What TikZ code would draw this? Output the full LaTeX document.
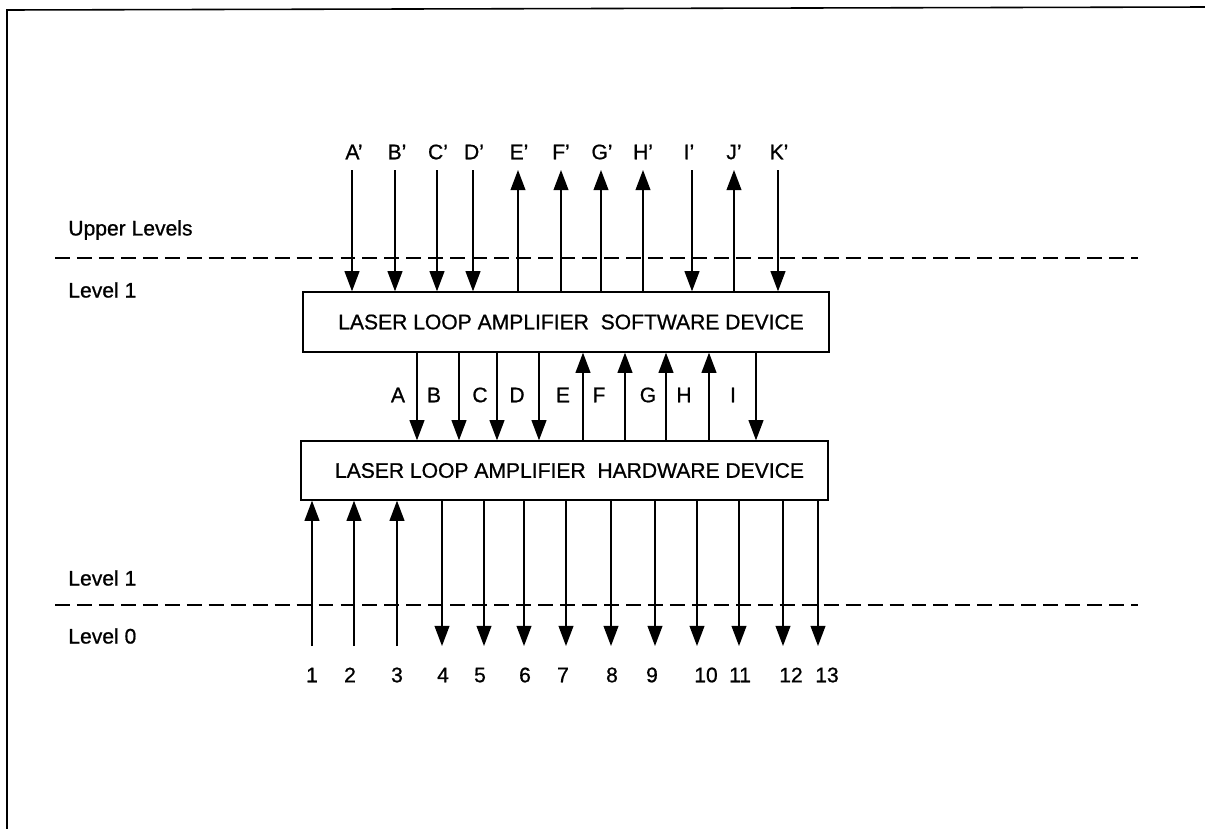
\documentclass[tikz,border=0pt]{standalone}
\usepackage{fontspec}
\setmainfont{Liberation Sans}[UprightFeatures={FakeBold=0.8}]
\usepackage{tikz}
\usetikzlibrary{positioning, arrows.meta, calc}

\begin{document}
\begin{tikzpicture}[
    x=0.02cm, y=-0.02cm,
    every node/.style={font=\fontsize{12}{14}\selectfont},
    devbox/.style={draw, line width=0.8pt, inner sep=0pt},
    wire/.style={-{Triangle[length=11.5pt, width=8.5pt]}, line width=0.75pt},
    levelline/.style={line width=0.8pt, dash pattern=on 8.5pt off 4pt},
    leveltext/.style={anchor=west, inner sep=0pt},
    sigtext/.style={inner sep=1pt}
]
\useasboundingbox (0,0) rectangle (1205,829);

% === FRAME ===
\draw[line width=0.9pt] (7,829) -- (7,10) -- (1205,7);

% === LEVELS ===
\node[leveltext] (upper) at (68,230) {Upper Levels};
\node[leveltext] (lvlA) at (68,290) {Level 1};
\node[leveltext] (lvlB) at (68,578) {Level 1};
\node[leveltext] (lvlC) at (68,636) {Level 0};
\coordinate (dashA) at (55,258);
\coordinate (dashAend) at (1138,258);
\coordinate (dashB) at (55,605);
\coordinate (dashBend) at (1138,605);
\draw[levelline] (dashA) -- (dashAend);
\draw[levelline] (dashB) -- (dashBend);

% === DEVICES ===
\node[devbox, minimum width=10.52cm, minimum height=1.2cm] (sw) at (566,322)
    {\hspace{0.2cm}LASER LOOP AMPLIFIER\ \ SOFTWARE DEVICE};
\node[devbox, minimum width=10.54cm, minimum height=1.18cm] (hw) at (564.5,470.5)
    {\hspace{0.2cm}LASER LOOP AMPLIFIER\ \ HARDWARE DEVICE};

% === UPPER LEVEL SIGNALS ===
\coordinate (tA) at (352,170);
\coordinate (tB) at (395,170);
\coordinate (tC) at (437,170);
\coordinate (tD) at (473,170);
\coordinate (tE) at (518,170);
\coordinate (tF) at (561,170);
\coordinate (tG) at (601,170);
\coordinate (tH) at (643,170);
\coordinate (tI) at (692,170);
\coordinate (tJ) at (734,170);
\coordinate (tK) at (778,170);
\node[sigtext] (ltA) at (354,152) {A'};
\node[sigtext] (ltB) at (397,152) {B'};
\node[sigtext] (ltC) at (438,152) {C'};
\node[sigtext] (ltD) at (474,152) {D'};
\node[sigtext] (ltE) at (519,152) {E'};
\node[sigtext] (ltF) at (561,152) {F'};
\node[sigtext] (ltG) at (602,152) {G'};
\node[sigtext] (ltH) at (643,152) {H'};
\node[sigtext] (ltI) at (689,152) {I'};
\node[sigtext] (ltJ) at (734,152) {J'};
\node[sigtext] (ltK) at (779,152) {K'};
\draw[wire] (tA) -- (tA |- sw.north);
\draw[wire] (tB) -- (tB |- sw.north);
\draw[wire] (tC) -- (tC |- sw.north);
\draw[wire] (tD) -- (tD |- sw.north);
\draw[wire] (tE |- sw.north) -- (tE);
\draw[wire] (tF |- sw.north) -- (tF);
\draw[wire] (tG |- sw.north) -- (tG);
\draw[wire] (tH |- sw.north) -- (tH);
\draw[wire] (tI) -- (tI |- sw.north);
\draw[wire] (tJ |- sw.north) -- (tJ);
\draw[wire] (tK) -- (tK |- sw.north);

% === SOFTWARE <-> HARDWARE ===
\coordinate (mA) at (417,395);
\coordinate (mB) at (459,395);
\coordinate (mC) at (497,395);
\coordinate (mD) at (539,395);
\coordinate (mE) at (583,395);
\coordinate (mF) at (625,395);
\coordinate (mG) at (666,395);
\coordinate (mH) at (709,395);
\coordinate (mI) at (756,395);
\node[sigtext] (lmA) at (398,395) {A};
\node[sigtext] (lmB) at (434,395) {B};
\node[sigtext] (lmC) at (480,395) {C};
\node[sigtext] (lmD) at (517,395) {D};
\node[sigtext] (lmE) at (563,395) {E};
\node[sigtext] (lmF) at (599,395) {F};
\node[sigtext] (lmG) at (648,395) {G};
\node[sigtext] (lmH) at (684,395) {H};
\node[sigtext] (lmI) at (733,395) {I};
\draw[wire] (mA |- sw.south) -- (mA |- hw.north);
\draw[wire] (mB |- sw.south) -- (mB |- hw.north);
\draw[wire] (mC |- sw.south) -- (mC |- hw.north);
\draw[wire] (mD |- sw.south) -- (mD |- hw.north);
\draw[wire] (mE |- hw.north) -- (mE |- sw.south);
\draw[wire] (mF |- hw.north) -- (mF |- sw.south);
\draw[wire] (mG |- hw.north) -- (mG |- sw.south);
\draw[wire] (mH |- hw.north) -- (mH |- sw.south);
\draw[wire] (mI |- sw.south) -- (mI |- hw.north);

% === LEVEL 0 SIGNALS ===
\coordinate (b1) at (312,646);
\coordinate (b2) at (354,646);
\coordinate (b3) at (397,646);
\coordinate (b4) at (442,646);
\coordinate (b5) at (484,646);
\coordinate (b6) at (524,646);
\coordinate (b7) at (566,646);
\coordinate (b8) at (611,646);
\coordinate (b9) at (655,646);
\coordinate (b10) at (697,646);
\coordinate (b11) at (739,646);
\coordinate (b12) at (783,646);
\coordinate (b13) at (818,646);
\node[sigtext] (lb1) at (312,675) {1};
\node[sigtext] (lb2) at (350,675) {2};
\node[sigtext] (lb3) at (397,675) {3};
\node[sigtext] (lb4) at (443,675) {4};
\node[sigtext] (lb5) at (480,675) {5};
\node[sigtext] (lb6) at (525,675) {6};
\node[sigtext] (lb7) at (563,675) {7};
\node[sigtext] (lb8) at (612,675) {8};
\node[sigtext] (lb9) at (652,675) {9};
\node[sigtext] (lb10) at (706,675) {10};
\node[sigtext] (lb11) at (740,675) {11};
\node[sigtext] (lb12) at (791,675) {12};
\node[sigtext] (lb13) at (827,675) {13};
\draw[wire] (b1) -- (b1 |- hw.south);
\draw[wire] (b2) -- (b2 |- hw.south);
\draw[wire] (b3) -- (b3 |- hw.south);
\draw[wire] (b4 |- hw.south) -- (b4);
\draw[wire] (b5 |- hw.south) -- (b5);
\draw[wire] (b6 |- hw.south) -- (b6);
\draw[wire] (b7 |- hw.south) -- (b7);
\draw[wire] (b8 |- hw.south) -- (b8);
\draw[wire] (b9 |- hw.south) -- (b9);
\draw[wire] (b10 |- hw.south) -- (b10);
\draw[wire] (b11 |- hw.south) -- (b11);
\draw[wire] (b12 |- hw.south) -- (b12);
\draw[wire] (b13 |- hw.south) -- (b13);

\end{tikzpicture}
\end{document}
